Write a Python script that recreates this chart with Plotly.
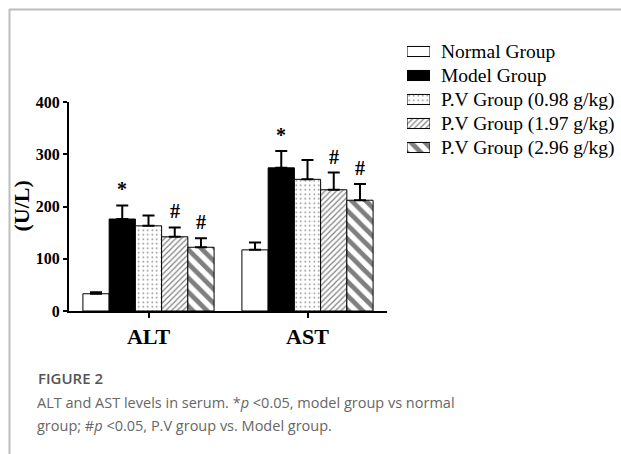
import plotly.graph_objects as go

# Serum enzyme levels (U/L), mean and SD per group
categories = ["ALT", "AST"]
groups = [
    "Normal Group",
    "Model Group",
    "P.V Group (0.98 g/kg)",
    "P.V Group (1.97 g/kg)",
    "P.V Group (2.96 g/kg)",
]
means = [
    [33, 117],
    [176, 274],
    [163, 252],
    [142, 232],
    [122, 212],
]
sds = [
    [3, 14],
    [26, 32],
    [20, 37],
    [18, 33],
    [17, 31],
]
# significance marks per group ("" = none)
marks = [
    ["", ""],
    ["*", "*"],
    ["", ""],
    ["#", "#"],
    ["#", "#"],
]
y_ticks = [0, 100, 200, 300, 400]

# figure geometry (pixels)
W, H = 621, 454
ML, MR, MT, MB = 69, 0, 30, 143
PW, PH = W - ML - MR, H - MT - MB


def px_x(x):
    return (x - ML) / PW


def px_y(y):
    return (H - MB - y) / PH


bar_w = 0.165
patterns = [
    dict(shape=""),
    dict(shape=""),
    dict(shape=".", size=4.5, solidity=0.1, fgcolor="black", bgcolor="white"),
    dict(shape="/", size=4, solidity=0.3, fgcolor="black", bgcolor="white"),
    dict(shape="\\", size=10, solidity=0.48, fgcolor="black", bgcolor="white"),
]
fills = ["white", "black", "white", "white", "white"]

serif = "Liberation Serif"
fig = go.Figure()
annotations = []
for j, name in enumerate(groups):
    xs = [i + (j - 2) * bar_w for i in range(len(categories))]
    marker = dict(
        color=fills[j],
        line=dict(color="black", width=1),
        pattern=patterns[j],
    )
    fig.add_trace(
        go.Bar(
            x=xs,
            y=means[j],
            width=bar_w,
            name=name,
            marker=marker,
            showlegend=False,
            error_y=dict(
                type="data",
                array=sds[j],
                arrayminus=[0] * len(categories),
                symmetric=False,
                color="black",
                thickness=2,
                width=6,
            ),
        )
    )
    # key swatch for this group, drawn on the small key axes
    fig.add_trace(
        go.Bar(
            x=[1],
            y=[name],
            orientation="h",
            width=0.42,
            marker=marker,
            xaxis="x2",
            yaxis="y2",
            showlegend=False,
            hoverinfo="skip",
        )
    )
    for i, m in enumerate(marks[j]):
        if m:
            annotations.append(
                dict(
                    x=xs[i],
                    y=means[j][i] + sds[j][i],
                    xref="x",
                    yref="y",
                    text=m,
                    showarrow=False,
                    yanchor="bottom",
                    yshift=3,
                    font=dict(family=serif, size=20, color="black", weight="bold"),
                )
            )

# caption below the chart
annotations.append(
    dict(
        x=px_x(36), y=px_y(378), xref="paper", yref="paper",
        text="FIGURE 2", showarrow=False, xanchor="left", yanchor="middle",
        font=dict(family="Open Sans", size=15, color="#555555", weight=600),
    )
)
annotations.append(
    dict(
        x=px_x(35), y=px_y(402), xref="paper", yref="paper",
        text="ALT and AST levels in serum. *<i>p</i> &lt;0.05, model group vs normal",
        showarrow=False, xanchor="left", yanchor="middle",
        font=dict(family="Open Sans", size=14.5, color="#666666"),
    )
)
annotations.append(
    dict(
        x=px_x(35), y=px_y(425), xref="paper", yref="paper",
        text="group; #<i>p</i> &lt;0.05, P.V group vs. Model group.",
        showarrow=False, xanchor="left", yanchor="middle",
        font=dict(family="Open Sans", size=14.5, color="#666666"),
    )
)
# y-axis title
annotations.append(
    dict(
        x=px_x(20.5), y=px_y(206), xref="paper", yref="paper",
        text="(U/L)", showarrow=False, textangle=-90,
        xanchor="center", yanchor="middle",
        font=dict(family=serif, size=22, color="black", weight="bold"),
    )
)

# light frame lines along the top and left page edges
frame = dict(color="#bdbdbd", width=2)
shapes = [
    dict(type="line", xref="paper", yref="paper",
         x0=px_x(9), x1=px_x(W), y0=px_y(9.5), y1=px_y(9.5), line=frame),
    dict(type="line", xref="paper", yref="paper",
         x0=px_x(9.5), x1=px_x(9.5), y0=px_y(9), y1=px_y(H), line=frame),
]

fig.update_layout(
    width=W,
    height=H,
    margin=dict(l=ML, r=MR, t=MT, b=MB),
    paper_bgcolor="white",
    plot_bgcolor="white",
    barmode="overlay",
    showlegend=False,
    annotations=annotations,
    shapes=shapes,
    xaxis=dict(
        domain=[0, px_x(387)],
        range=[-0.5, 1.5],
        tickvals=list(range(len(categories))),
        ticktext=categories,
        showline=True, linecolor="black", linewidth=2,
        ticks="outside", ticklen=5, tickwidth=2, tickcolor="black",
        showgrid=False, zeroline=False,
        tickfont=dict(family=serif, size=22, color="black", weight="bold"),
    ),
    yaxis=dict(
        domain=[0, px_y(102)],
        range=[0, 400],
        tickvals=y_ticks,
        showline=True, linecolor="black", linewidth=2,
        ticks="outside", ticklen=4, tickwidth=2, tickcolor="black",
        showgrid=False, zeroline=False,
        tickfont=dict(family=serif, size=16, color="black", weight="bold"),
    ),
    # key: swatches with group names as right-hand tick labels
    xaxis2=dict(
        domain=[px_x(407), px_x(430)],
        range=[0, 1],
        anchor="y2",
        visible=False,
        fixedrange=True,
    ),
    yaxis2=dict(
        domain=[px_y(159.5), px_y(39.5)],
        anchor="x2",
        side="right",
        type="category",
        categoryorder="array",
        categoryarray=groups,
        autorange="reversed",
        showline=False, showgrid=False, zeroline=False,
        ticks="", ticklabelstandoff=10,
        tickfont=dict(family=serif, size=19.5, color="black"),
        fixedrange=True,
    ),
)

fig.write_html("out.html")
